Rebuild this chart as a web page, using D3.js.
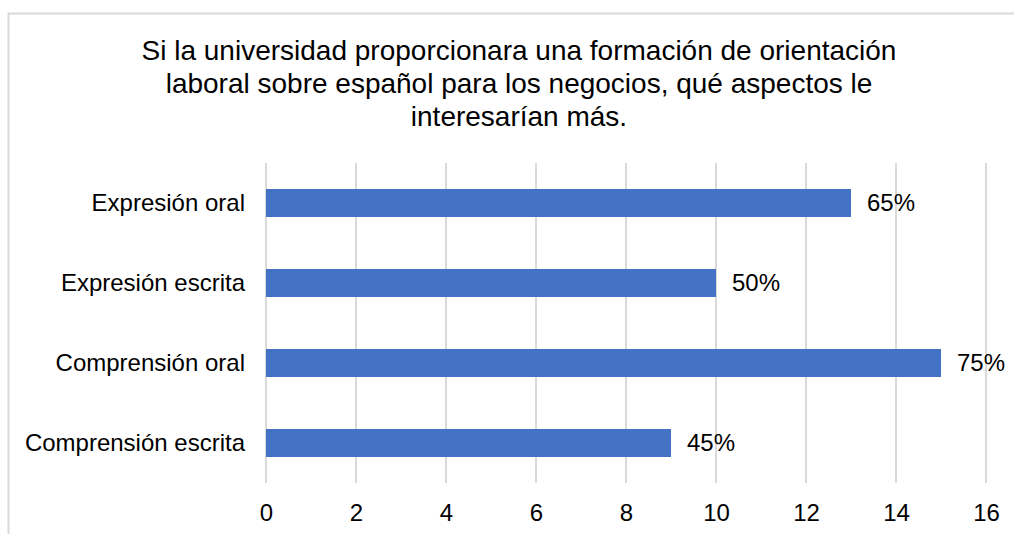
<!DOCTYPE html>
<html>
<head>
<meta charset="utf-8">
<script src="https://cdn.jsdelivr.net/npm/d3@7"></script>
<style>
  body { margin: 0; background: #fff; }
  svg { font-family: "Liberation Sans", Arial, sans-serif; }
</style>
</head>
<body>
<svg width="1014" height="534"></svg>
<script>
var categories = ["Expresión oral", "Expresión escrita", "Comprensión oral", "Comprensión escrita"];
var values = [13, 10, 15, 9];
var labels = ["65%", "50%", "75%", "45%"];
var tickValues = [0, 2, 4, 6, 8, 10, 12, 14, 16];
var titleLines = [
  "Si la universidad proporcionara una formación de orientación",
  "laboral sobre español para los negocios, qué aspectos le",
  "interesarían más."
];

var svg = d3.select("svg");

// chart frame (cropped on right and bottom)
svg.append("rect")
    .attr("x", 8.5).attr("y", 13.5)
    .attr("width", 1100).attr("height", 600)
    .attr("fill", "#fff")
    .attr("stroke", "#d9d9d9")
    .attr("stroke-width", 2);

var x = d3.scaleLinear().domain([0, 16]).range([266, 986]);
var y = d3.scaleBand().domain(categories).range([163, 483])
    .paddingInner(0.65).paddingOuter(0.325);

svg.append("g")
  .selectAll("text")
  .data(titleLines)
  .enter().append("text")
    .attr("x", 519)
    .attr("y", function(d, i) { return 60 + i * 33; })
    .attr("text-anchor", "middle")
    .attr("font-size", 28)
    .attr("fill", "#000")
    .text(function(d) { return d; });

// gridlines
svg.append("g")
  .selectAll("line")
  .data(tickValues)
  .enter().append("line")
    .attr("x1", function(d) { return x(d); })
    .attr("x2", function(d) { return x(d); })
    .attr("y1", 163).attr("y2", 483)
    .attr("stroke", "#d9d9d9")
    .attr("stroke-width", 2);

var xAxis = svg.append("g")
    .attr("transform", "translate(0,483)")
    .call(d3.axisBottom(x).tickValues(tickValues).tickSize(0).tickPadding(21));
xAxis.select(".domain").remove();
xAxis.selectAll("text")
    .attr("font-size", 24)
    .attr("font-family", "Liberation Sans, Arial, sans-serif")
    .attr("fill", "#000");

var yAxis = svg.append("g")
    .attr("transform", "translate(266,0)")
    .call(d3.axisLeft(y).tickSize(0).tickPadding(21));
yAxis.select(".domain").remove();
yAxis.selectAll("text")
    .attr("font-size", 24)
    .attr("font-family", "Liberation Sans, Arial, sans-serif")
    .attr("fill", "#000");

svg.append("g")
  .selectAll("rect")
  .data(values)
  .enter().append("rect")
    .attr("x", x(0))
    .attr("y", function(d, i) { return y(categories[i]); })
    .attr("width", function(d) { return x(d) - x(0); })
    .attr("height", y.bandwidth())
    .attr("fill", "#4472c4");

svg.append("g")
  .selectAll("text")
  .data(values)
  .enter().append("text")
    .attr("x", function(d) { return x(d) + 16; })
    .attr("y", function(d, i) { return y(categories[i]) + y.bandwidth() / 2; })
    .attr("dy", "0.35em")
    .attr("font-size", 24)
    .attr("fill", "#000")
    .text(function(d, i) { return labels[i]; });
</script>
</body>
</html>
